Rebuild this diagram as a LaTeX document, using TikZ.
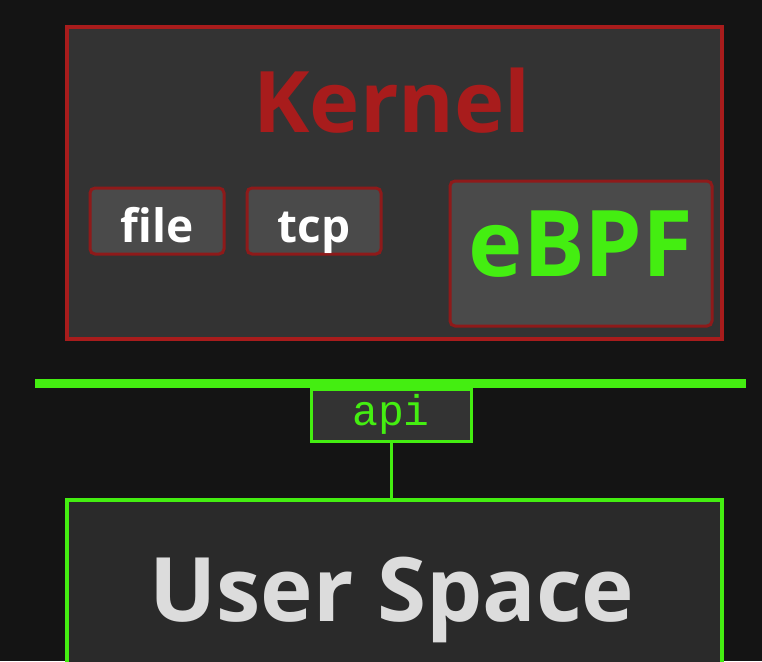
\documentclass[tikz,border=0pt]{standalone}
\usepackage{fontspec}
\setmainfont{Open Sans}
\newfontfamily\apifont{Liberation Mono}
\usepackage{tikz}
\usetikzlibrary{positioning}
\definecolor{bgdark}{HTML}{141414}
\definecolor{krnfill}{HTML}{333333}
\definecolor{krnred}{HTML}{A81C1C}
\definecolor{modfill}{HTML}{4A4A4A}
\definecolor{modred}{HTML}{8E1A1A}
\definecolor{bpfgreen}{HTML}{44EE11}
\definecolor{usrfill}{HTML}{2A2A2A}
\definecolor{usrtext}{HTML}{DCDCDC}

\begin{document}
\begin{tikzpicture}[
  x=1pt, y=-1pt,
  layer/.style={draw, line width=4pt, inner sep=0pt, anchor=north west},
  modbox/.style={draw=modred, fill=modfill, line width=3pt, rounded corners=5pt,
                 inner sep=0pt, minimum width=134pt, minimum height=66pt,
                 text height=42pt, text depth=0pt,
                 text=white, font=\bfseries\fontsize{46}{46}\selectfont},
  bus/.style={bpfgreen, line width=9pt}
]
  \fill[bgdark] (0,0) rectangle (762,661);
  \clip (0,0) rectangle (762,661);
  % kernel side
  \node[layer, draw=krnred, fill=krnfill, minimum width=655pt, minimum height=312pt]
    (kernel) at (65,25) {};
  \node[anchor=base, text=krnred, font=\bfseries\fontsize{85}{85}\selectfont]
    (ktitle) at (392,132) {Kernel};
  \node[modbox] (file) at (157,221) {file};
  \node[modbox, right=20pt of file] (tcp) {tcp};
  \node[modbox, minimum width=262pt, minimum height=145pt, text=bpfgreen,
        text height=45pt, font=\bfseries\fontsize{92}{92}\selectfont]
    (ebpf) at (581,253.5) {eBPF};
  % boundary and api
  \coordinate (busl) at (35,383);
  \coordinate (busr) at (746,383);
  \draw[bus] (busl) -- (busr);
  \node[draw=bpfgreen, fill=krnfill, line width=3pt, inner sep=0pt,
        minimum width=160pt, minimum height=52pt, text=bpfgreen,
        text height=20pt, text depth=0pt,
        font=\apifont\fontsize{43}{43}\selectfont] (api) at (391,415) {api};
  % user side
  \node[layer, draw=bpfgreen, fill=usrfill, minimum width=655pt, minimum height=230pt]
    (user) at (65,498) {};
  \node[anchor=base, text=usrtext, font=\bfseries\fontsize{89}{89}\selectfont]
    (utitle) at (392,621) {User Space};
  \draw[bpfgreen, line width=3pt] (api.south) -- (api.south |- user.north);
\end{tikzpicture}
\end{document}
